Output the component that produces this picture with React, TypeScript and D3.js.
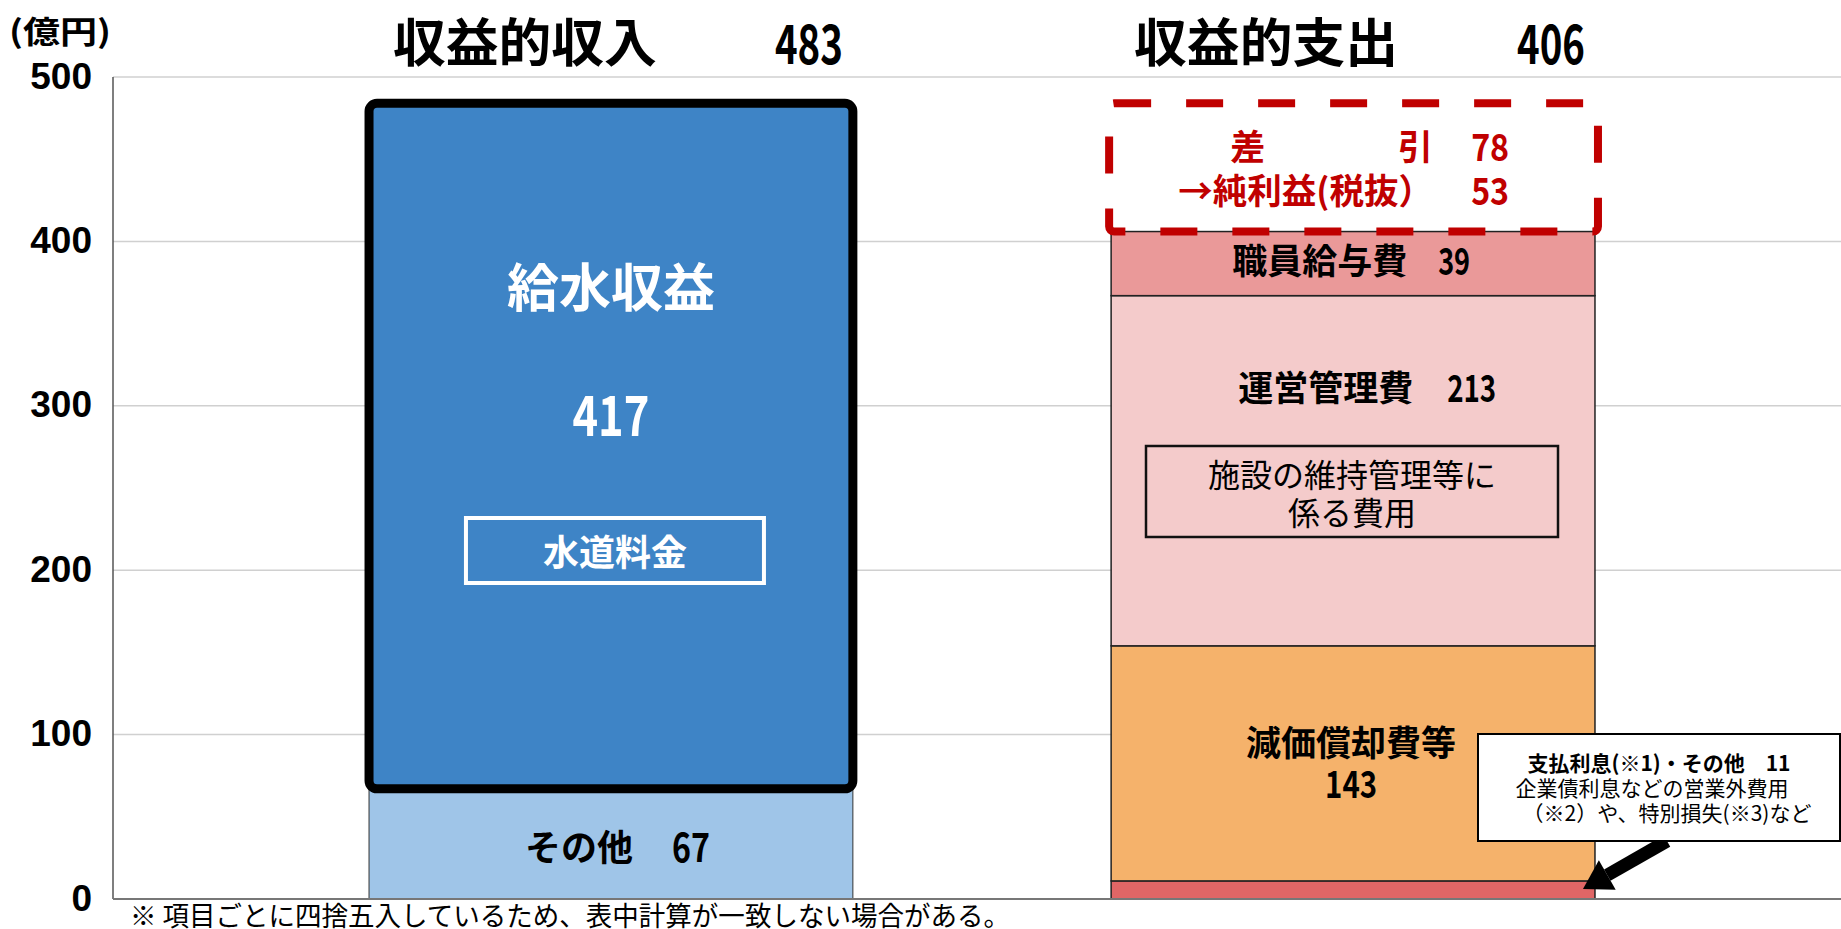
import React from "react";
import * as d3 from "d3";

const categories = ["収益的収入", "収益的支出"];
const categoryTotals = [483, 406];
const incomeLabels = ["その他", "給水収益"];
const incomeValues = [67, 417];
const expenseLabels = ["支払利息(※1)・その他", "減価償却費等", "運営管理費", "職員給与費"];
const expenseValues = [11, 143, 213, 39];
const differenceValue = 78;
const netProfitValue = 53;
const yTicks = [0, 100, 200, 300, 400, 500];

const JP = "'Noto Sans CJK JP', 'Noto Sans', sans-serif";
const NUM = "'Liberation Sans', Arial, sans-serif";

function starts(vals: number[]) {
  const c = Array.from(d3.cumsum(vals));
  return c.map((v, i) => v - vals[i]);
}

function Num(props: { x: number; y: number; v: number | string; size: number; w: number; fill?: string; anchor?: string }) {
  return (
    <text x={props.x} y={props.y} textAnchor={props.anchor || "end"} dominantBaseline="central" fontFamily={JP}
      fontWeight="bold" fontSize={props.size} fill={props.fill || "#000"} textLength={props.w} lengthAdjust="spacingAndGlyphs">
      {props.v}
    </text>
  );
}

export default function App() {
  const W = 1841, H = 929;
  const x = d3.scaleBand<string>().domain(categories).range([113, 1851]).paddingInner(0.348).paddingOuter(0.345);
  const y = d3.scaleLinear().domain([0, 500]).range([899, 77]);
  const bw = x.bandwidth();
  const x0 = x(categories[0]) as number;
  const x1 = x(categories[1]) as number;
  const c0 = x0 + bw / 2;
  const c1 = x1 + bw / 2;

  const incS = starts(incomeValues);
  const expS = starts(expenseValues);
  const expColors = ["#e06666", "#f5b26b", "#f4cbcb", "#ea9999"];
  const incTop = incS[1] + incomeValues[1];
  const mid = (a: number, b: number) => (y(a) + y(b)) / 2;

  // arrow geometry
  const ax0 = 1667, ay0 = 841;
  const ax1 = x1 + bw - 12, ay1 = y(expenseValues[0] / 2) - 1;
  const dx = ax1 - ax0, dy = ay1 - ay0;
  const len = Math.hypot(dx, dy);
  const ux = dx / len, uy = dy / len;
  const px = -uy, py = ux;
  const headL = 28, headW = 17;
  const bx = ax1 - ux * headL, by = ay1 - uy * headL;
  const red = "#c00000";

  return (
    <svg width={W} height={H} style={{ position: "absolute", left: 0, top: 0, background: "#fff" }}>
      {/* gridlines */}
      {yTicks.filter((t) => t > 0).map((t) => (
        <line key={t} x1={113} x2={W} y1={y(t)} y2={y(t)} stroke="#d0d0d0" strokeWidth={1.5} />
      ))}
      {/* y tick labels */}
      {yTicks.map((t) => (
        <text key={"l" + t} x={92} y={y(t) - 1} textAnchor="end" dominantBaseline="central"
          fontFamily={NUM} fontWeight="bold" fontSize={37} fill="#000">{t}</text>
      ))}
      <text x={9} y={29} dominantBaseline="central" fontFamily={JP} fontWeight="bold" fontSize={31} fill="#000"
        textLength={102} lengthAdjust="spacingAndGlyphs">(億円)</text>

      {/* income bar */}
      <rect x={x0} y={y(incomeValues[0])} width={bw} height={y(0) - y(incomeValues[0])} fill="#9fc5e8" stroke="#333" strokeWidth={1} />
      <rect x={x0} y={y(incTop)} width={bw} height={y(incS[1]) - y(incTop)} fill="#3e84c6" stroke="#000" strokeWidth={9} rx={8} />

      {/* expense bar */}
      {expenseValues.map((v, i) => (
        <rect key={"e" + i} x={x1} y={y(expS[i] + v)} width={bw} height={y(expS[i]) - y(expS[i] + v)}
          fill={expColors[i]} stroke="#222" strokeWidth={1.5} />
      ))}

      {/* axes */}
      <line x1={113} x2={113} y1={y(500)} y2={y(0)} stroke="#555" strokeWidth={1.5} />
      <line x1={113} x2={W} y1={y(0)} y2={y(0)} stroke="#777" strokeWidth={2} />

      {/* titles */}
      <text x={c0 - 218} y={39} dominantBaseline="central" fontFamily={JP} fontWeight="bold" fontSize={52}
        textLength={264} lengthAdjust="spacingAndGlyphs">{categories[0]}</text>
      <Num x={c0 + 232} y={40} v={categoryTotals[0]} size={54} w={68} />
      <text x={c1 - 219} y={39} dominantBaseline="central" fontFamily={JP} fontWeight="bold" fontSize={52}
        textLength={264} lengthAdjust="spacingAndGlyphs">{categories[1]}</text>
      <Num x={c1 + 232} y={40} v={categoryTotals[1]} size={54} w={68} />

      {/* income labels */}
      <text x={c0} y={284} textAnchor="middle" dominantBaseline="central" fontFamily={JP} fontWeight="bold" fontSize={52} fill="#fff">{incomeLabels[1]}</text>
      <Num x={c0} y={411} v={incomeValues[1]} size={56} w={77} fill="#fff" anchor="middle" />
      <rect x={c0 + 4 - 149} y={518} width={298} height={65} fill="none" stroke="#fff" strokeWidth={4} />
      <text x={c0 + 4} y={550} textAnchor="middle" dominantBaseline="central" fontFamily={JP} fontWeight="bold" fontSize={36} fill="#fff">水道料金</text>
      <text x={x0 + 156} y={mid(0, incomeValues[0]) + 1} dominantBaseline="central" fontFamily={JP} fontWeight="bold" fontSize={36} fill="#000">{incomeLabels[0]}</text>
      <Num x={x0 + 341} y={mid(0, incomeValues[0]) + 1} v={incomeValues[0]} size={40} w={38} />

      {/* expense labels */}
      <text x={x1 + 121} y={mid(expS[3], expS[3] + expenseValues[3]) - 5} dominantBaseline="central" fontFamily={JP} fontWeight="bold" fontSize={35}>{expenseLabels[3]}</text>
      <Num x={x1 + 359} y={mid(expS[3], expS[3] + expenseValues[3]) - 5} v={expenseValues[3]} size={38} w={32} />
      <text x={x1 + 127} y={385} dominantBaseline="central" fontFamily={JP} fontWeight="bold" fontSize={35}>{expenseLabels[2]}</text>
      <Num x={x1 + 385} y={385} v={expenseValues[2]} size={38} w={49} />
      <rect x={1146} y={446} width={412} height={91} fill="none" stroke="#111" strokeWidth={2.5} />
      <text x={1352} y={473} textAnchor="middle" dominantBaseline="central" fontFamily={JP} fontSize={32}>施設の維持管理等に</text>
      <text x={1352} y={511} textAnchor="middle" dominantBaseline="central" fontFamily={JP} fontSize={32}>係る費用</text>
      <text x={c1 - 2} y={740} textAnchor="middle" dominantBaseline="central" fontFamily={JP} fontWeight="bold" fontSize={35}>{expenseLabels[1]}</text>
      <Num x={c1 - 2} y={781} v={expenseValues[1]} size={38} w={52} anchor="middle" />

      {/* dashed difference box */}
      <rect x={x1 - 2} y={y(categoryTotals[1] + differenceValue)} width={bw + 5}
        height={y(categoryTotals[1]) - y(categoryTotals[1] + differenceValue)}
        fill="none" stroke={red} strokeWidth={8} strokeDasharray="37 35" rx={5} />
      <text x={x1 + 119} y={144} dominantBaseline="central" fontFamily={JP} fontWeight="bold" fontSize={35} fill={red}>差</text>
      <text x={x1 + 322} y={144} textAnchor="end" dominantBaseline="central" fontFamily={JP} fontWeight="bold" fontSize={35} fill={red}>引</text>
      <Num x={x1 + 398} y={144} v={differenceValue} size={38} w={38} fill={red} />
      <text x={x1 + 322} y={188} textAnchor="end" dominantBaseline="central" fontFamily={JP} fontWeight="bold" fontSize={35} fill={red}
        textLength={255} lengthAdjust="spacingAndGlyphs">→純利益(税抜）</text>
      <Num x={x1 + 398} y={188} v={netProfitValue} size={38} w={38} fill={red} />

      {/* arrow */}
      <line x1={ax0} y1={ay0} x2={bx} y2={by} stroke="#000" strokeWidth={13} />
      <polygon points={`${ax1},${ay1} ${bx + px * headW},${by + py * headW} ${bx - px * headW},${by - py * headW}`} fill="#000" />

      {/* callout */}
      <rect x={1478} y={734} width={362} height={107} fill="#fff" stroke="#000" strokeWidth={2} />
      <text x={1659} y={762} textAnchor="middle" dominantBaseline="central" fontFamily={JP} fontWeight="bold" fontSize={21}>{expenseLabels[0] + "　" + expenseValues[0]}</text>
      <text x={1652} y={787} textAnchor="middle" dominantBaseline="central" fontFamily={JP} fontSize={21}>企業債利息などの営業外費用</text>
      <text x={1667} y={812} textAnchor="middle" dominantBaseline="central" fontFamily={JP} fontSize={21}>（※2）や、特別損失(※3)など</text>

      {/* footnote */}
      <text x={130} y={914} dominantBaseline="central" fontFamily={JP} fontSize={27}
        textLength={880} lengthAdjust="spacingAndGlyphs">※ 項目ごとに四捨五入しているため、表中計算が一致しない場合がある。</text>
    </svg>
  );
}
